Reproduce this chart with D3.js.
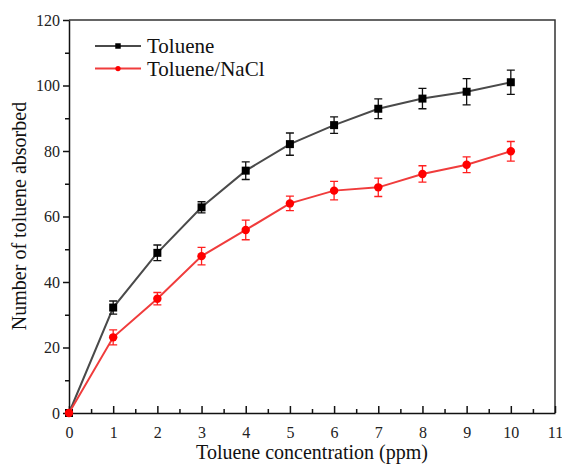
<!DOCTYPE html>
<html>
<head>
<meta charset="utf-8">
<script src="https://cdn.jsdelivr.net/npm/d3@7"></script>
<style>
  body { margin: 0; background: #fff; }
</style>
</head>
<body>
<div id="chart"></div>
<script>
// data
var conc = [0, 1, 2, 3, 4, 5, 6, 7, 8, 9, 10];
var toluene = [0, 32.2, 48.9, 62.8, 74.0, 82.1, 87.9, 92.9, 96.0, 98.1, 101.0];
var tolueneErr = [0, 2.0, 2.4, 1.7, 2.7, 3.4, 2.5, 3.0, 3.1, 4.0, 3.7];
var toluNaCl = [0, 23.1, 34.9, 47.9, 55.9, 64.0, 67.9, 68.9, 73.0, 75.8, 79.9];
var toluNaClErr = [0, 2.3, 1.9, 2.7, 3.0, 2.2, 2.8, 2.8, 2.5, 2.4, 3.0];
var xTicks = [0, 1, 2, 3, 4, 5, 6, 7, 8, 9, 10, 11];
var yTicks = [0, 20, 40, 60, 80, 100, 120];

var serif = '"Liberation Serif", "Times New Roman", serif';
var width = 562, height = 464;
var margin = { top: 20, right: 7, bottom: 51, left: 69 };

var svg = d3.select('#chart')
    .append('svg')
    .attr('width', width)
    .attr('height', height);

var x = d3.scaleLinear()
    .domain([0, 11])
    .range([margin.left, width - margin.right]);

var y = d3.scaleLinear()
    .domain([0, 120])
    .range([height - margin.bottom, margin.top]);

// frame (top & right)
svg.append('path')
    .attr('d', `M${x(0)},${y(120)}H${x(11)}V${y(0)}`)
    .attr('fill', 'none')
    .attr('stroke', '#333')
    .attr('stroke-width', 1.5);

// minor ticks
svg.append('g')
    .attr('transform', `translate(0, ${y(0)})`)
    .call(d3.axisBottom(x).tickValues(d3.range(0.5, 11, 1)).tickSize(-4).tickFormat(''))
    .call(g => g.select('.domain').remove())
    .selectAll('line').attr('stroke', '#111').attr('stroke-width', 1.5);

svg.append('g')
    .attr('transform', `translate(${x(0)}, 0)`)
    .call(d3.axisLeft(y).tickValues(d3.range(10, 120, 20)).tickSize(4).tickFormat(''))
    .call(g => g.select('.domain').remove())
    .selectAll('line').attr('stroke', '#111').attr('stroke-width', 1.5);

// x axis, ticks pointing in
var xAxis = svg.append('g')
    .attr('transform', `translate(0, ${y(0)})`)
    .call(d3.axisBottom(x).tickValues(xTicks).tickSize(-7).tickPadding(14).tickSizeOuter(0));
xAxis.attr('font-family', serif).attr('font-size', 16);
xAxis.select('.domain').attr('stroke', '#111').attr('stroke-width', 1.5);
xAxis.selectAll('line').attr('stroke', '#111').attr('stroke-width', 1.5);
xAxis.selectAll('text')
    .style('font-family', serif)
    .style('font-size', '16px')
    .attr('fill', '#222');

// y axis, ticks pointing out
var yAxis = svg.append('g')
    .attr('transform', `translate(${x(0)}, 0)`)
    .call(d3.axisLeft(y).tickValues(yTicks).tickSize(6).tickPadding(3).tickSizeOuter(0));
yAxis.attr('font-family', serif).attr('font-size', 16);
yAxis.select('.domain').attr('stroke', '#111').attr('stroke-width', 1.5);
yAxis.selectAll('line').attr('stroke', '#111').attr('stroke-width', 1.5);
yAxis.selectAll('text')
    .style('font-family', serif)
    .style('font-size', '16px')
    .attr('fill', '#222');

// series
var series = [
    { name: 'Toluene', values: toluene, err: tolueneErr, line: '#4a4a4a', mark: '#000', bar: '#111', shape: 'square' },
    { name: 'Toluene/NaCl', values: toluNaCl, err: toluNaClErr, line: '#f03c3c', mark: '#ff0000', bar: '#ff2020', shape: 'circle' }
];

var line = d3.line()
    .x((d, i) => x(conc[i]))
    .y(d => y(d));

series.forEach(function(s) {
    svg.append('path')
        .datum(s.values)
        .attr('fill', 'none')
        .attr('stroke', s.line)
        .attr('stroke-width', 2)
        .attr('d', line);

    // error bars
    var eb = svg.append('g')
        .attr('stroke', s.bar)
        .attr('stroke-width', 1.3)
        .attr('fill', 'none');
    s.values.forEach(function(v, i) {
        if (!s.err[i]) return;
        var cx = x(conc[i]);
        var t = y(v + s.err[i]), b = y(v - s.err[i]);
        eb.append('path')
            .attr('d', `M${cx},${t}V${b}M${cx - 4},${t}H${cx + 4}M${cx - 4},${b}H${cx + 4}`);
    });

    var sym = d3.symbol()
        .type(s.shape === 'square' ? d3.symbolSquare : d3.symbolCircle)
        .size(s.shape === 'square' ? 64 : 56);
    svg.append('g')
        .selectAll('path')
        .data(s.values)
        .enter()
        .append('path')
        .attr('transform', (d, i) => `translate(${x(conc[i])}, ${y(d)})`)
        .attr('d', sym)
        .attr('fill', s.mark);
});

// legend
var legend = svg.append('g')
    .attr('transform', 'translate(95, 46)');
series.forEach(function(s, i) {
    var row = legend.append('g').attr('transform', `translate(0, ${i * 22.6})`);
    row.append('line')
        .attr('x1', 0).attr('x2', 46)
        .attr('stroke', s.line)
        .attr('stroke-width', 2);
    row.append('path')
        .attr('transform', 'translate(23, 0)')
        .attr('d', d3.symbol().type(s.shape === 'square' ? d3.symbolSquare : d3.symbolCircle).size(s.shape === 'square' ? 30 : 22))
        .attr('fill', s.mark);
    row.append('text')
        .attr('x', 52)
        .attr('dy', '0.35em')
        .style('font-family', serif)
        .style('font-size', '21px')
        .attr('fill', '#111')
        .text(s.name);
});

// axis titles
svg.append('text')
    .attr('x', (x(0) + x(11)) / 2)
    .attr('y', 459)
    .style('text-anchor', 'middle')
    .style('font-family', serif)
    .style('font-size', '20px')
    .attr('fill', '#111')
    .text('Toluene concentration (ppm)');

svg.append('text')
    .attr('transform', 'translate(26, 216) rotate(-90)')
    .style('text-anchor', 'middle')
    .style('font-family', serif)
    .style('font-size', '20px')
    .attr('fill', '#111')
    .text('Number of toluene absorbed');
</script>
</body>
</html>
